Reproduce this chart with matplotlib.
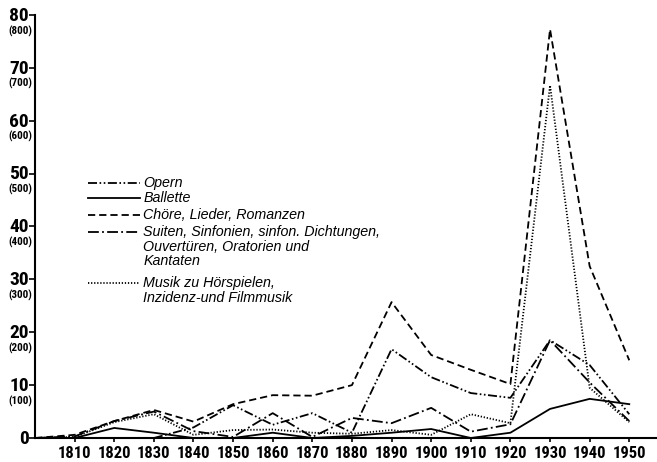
import numpy as np
import matplotlib.pyplot as plt

# decades on the x axis
years = [1800, 1810, 1820, 1830, 1840, 1850, 1860, 1870, 1880, 1890,
         1900, 1910, 1920, 1930, 1940, 1950]

# values
opern_years = years[3:]
opern = [0, 2.0, 6.2, 2.5, 4.7, 1.0, 16.8, 11.5, 8.5, 7.6, 18.5, 13.8, 4.5]
ballette = [0, 0, 1.9, 1.0, 0, 0, 1.0, 0, 0.4, 1.0, 1.7, 0, 1.0, 5.5, 7.4, 6.4]
choere = [0, 0.6, 3.2, 5.3, 3.1, 6.4, 8.1, 8.0, 10.0, 25.7, 15.7, 12.9, 10.2, 77.3, 32.5, 14.7]
suiten = [0, 0.3, 3.2, 5.0, 1.3, 0.2, 4.7, 0.2, 3.8, 2.8, 5.7, 1.2, 2.6, 18.5, 10.5, 3.2]
musik = [0, 0.2, 3.0, 4.5, 0.6, 1.5, 1.6, 1.0, 0.8, 1.5, 0.6, 4.5, 2.8, 66.7, 9.5, 3.0]

yticks = [0, 10, 20, 30, 40, 50, 60, 70, 80]
xticks = list(range(1810, 1951, 10))

labels = ["Opern",
          "Ballette",
          "Chöre, Lieder, Romanzen",
          "Suiten, Sinfonien, sinfon. Dichtungen,\nOuvertüren, Oratorien und\nKantaten",
          "Musik zu Hörspielen,\nInzidenz-und Filmmusik"]

styles = [(0, (5, 1.4, 0.9, 1.4, 0.9, 1.4)),
          "-",
          (0, (4, 2.2)),
          (0, (6, 1.8, 1, 1.8)),
          (0, (0.7, 1.0))]

# narrow bold face for the numbers, if one is there
num_font = dict(fontfamily=['Roboto Condensed', 'DejaVu Sans'],
                fontstretch='condensed', fontweight='bold')

fig = plt.figure(figsize=(6.57, 4.62), dpi=100)
ax = fig.add_axes([35 / 657, 24 / 462, 622 / 657, 423 / 462])

series = [(opern_years, opern), (years, ballette), (years, choere),
          (years, suiten), (years, musik)]
for (xs, ys), ls in zip(series, styles):
    ax.plot(xs, ys, color='black', lw=1.3, linestyle=ls)

ax.set_xlim(1800, 1957)
ax.set_ylim(0, 80)
ax.spines['top'].set_visible(False)
ax.spines['right'].set_visible(False)
ax.spines['left'].set_linewidth(1.5)
ax.spines['bottom'].set_linewidth(1.5)

ax.set_xticks(xticks)
ax.set_xticklabels([str(x) for x in xticks], fontsize=12, **num_font)
ax.tick_params(axis='x', direction='out', length=3, width=1.2, pad=2.5)

ax.set_yticks(yticks)
ax.tick_params(axis='y', direction='out', length=4, width=1.2, labelleft=False)
for v in yticks:
    ax.annotate(str(v), xy=(0, v), xycoords=('axes fraction', 'data'),
                xytext=(-4.3, -0.6), textcoords='offset points',
                ha='right', va='center', fontsize=14, **num_font)
    if v > 0:
        ax.annotate("(%d)" % (v * 10), xy=(0, v), xycoords=('axes fraction', 'data'),
                    xytext=(-10.8, -11.5), textcoords='offset points',
                    ha='center', va='center', fontsize=8, **num_font)

# legend drawn by hand
rows = [0.603, 0.567, 0.527, 0.487, 0.366]
for y, ls, lab in zip(rows, styles, labels):
    ax.plot([0.085, 0.169], [y, y], transform=ax.transAxes, color='black',
            lw=1.3, linestyle=ls, clip_on=False)
    ax.text(0.174, y + 0.016, lab, transform=ax.transAxes, ha='left', va='top',
            fontfamily='Liberation Sans', fontstyle='italic', fontsize=10.3,
            linespacing=1.05)

fig.savefig('out.png', dpi=100)
